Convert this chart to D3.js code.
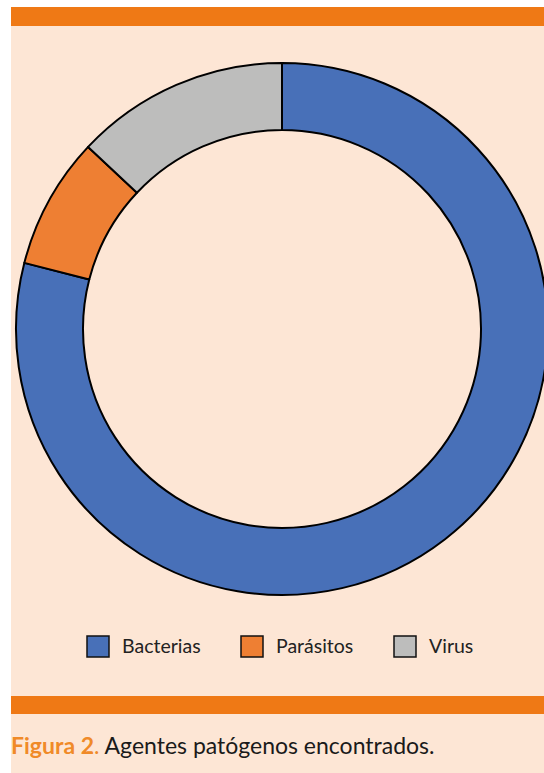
<!DOCTYPE html>
<html><head><meta charset="utf-8">
<script src="https://cdn.jsdelivr.net/npm/d3@7"></script>
<style>html,body{margin:0;padding:0;background:#fff;overflow:hidden}</style>
</head><body>
<svg id="c" width="544" height="773"></svg>
<script>
const categories = ["Bacterias", "Parásitos", "Virus"];
const values = [79, 8, 13];
const colors = ["#4870B8", "#EE7F33", "#BDBDBC"];
const captionLabel = "Figura 2";
const captionText = " Agentes patógenos encontrados.";

const svg = d3.select("#c");
const font = "Lato, 'Open Sans', sans-serif";

// panel
svg.append("rect").attr("x", 11).attr("y", 7).attr("width", 533).attr("height", 766).attr("fill", "#FDE6D5");
svg.append("rect").attr("x", 11).attr("y", 7).attr("width", 533).attr("height", 19).attr("fill", "#EF7915");
svg.append("rect").attr("x", 11).attr("y", 696).attr("width", 533).attr("height", 18).attr("fill", "#EF7915");

// donut
const cx = 282, cy = 329, rOuter = 266, rInner = 199;
const pie = d3.pie().sort(null).value(d => d)(values);
const arc = d3.arc().innerRadius(rInner).outerRadius(rOuter);
const g = svg.append("g").attr("transform", `translate(${cx},${cy})`);
g.selectAll("path").data(pie).join("path")
  .attr("d", arc)
  .attr("fill", (d, i) => colors[i])
  .attr("stroke", "#000").attr("stroke-width", 2).attr("stroke-linejoin", "round");

// legend
const legendX = d3.scaleOrdinal().domain(categories).range([87, 241, 394]);
const lg = svg.append("g");
categories.forEach((c, i) => {
  lg.append("rect").attr("x", legendX(c)).attr("y", 636).attr("width", 22).attr("height", 21)
    .attr("fill", colors[i]).attr("stroke", "#111").attr("stroke-width", 1.5);
  lg.append("text").attr("x", legendX(c) + 35).attr("y", 653)
    .attr("font-family", font).attr("font-size", 19.5).attr("fill", "#222").text(c);
});

// caption
const cap = svg.append("text").attr("x", 11).attr("y", 754)
  .attr("font-family", font).attr("font-size", 23);
cap.append("tspan").attr("fill", "#F08A28").attr("font-weight", "bold").text(captionLabel);
cap.append("tspan").attr("fill", "#F08A28").text(".");
cap.append("tspan").attr("fill", "#1a1a1a").text(captionText);
</script>
</body></html>
